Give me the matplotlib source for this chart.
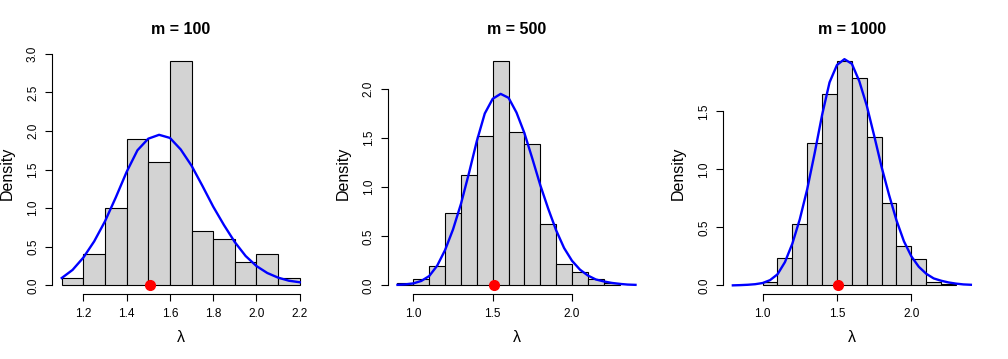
import numpy as np
import matplotlib.pyplot as plt

plt.rcParams['font.family'] = ['Liberation Sans', 'DejaVu Sans']

# sample sizes, one panel each
sizes = [100, 500, 1000]

# histogram bins (left edges, width 0.1) and densities
left_100 = [1.1, 1.2, 1.3, 1.4, 1.5, 1.6, 1.7, 1.8, 1.9, 2.0, 2.1]
dens_100 = [0.1, 0.4, 1.0, 1.9, 1.6, 2.9, 0.7, 0.6, 0.3, 0.4, 0.1]

left_500 = [0.9, 1.0, 1.1, 1.2, 1.3, 1.4, 1.5, 1.6, 1.7, 1.8, 1.9, 2.0, 2.1, 2.2]
dens_500 = [0.02, 0.06, 0.20, 0.74, 1.12, 1.52, 2.28, 1.56, 1.44, 0.62, 0.22, 0.14, 0.06, 0.02]

left_1000 = [1.0, 1.1, 1.2, 1.3, 1.4, 1.5, 1.6, 1.7, 1.8, 1.9, 2.0, 2.1, 2.2]
dens_1000 = [0.03, 0.24, 0.53, 1.23, 1.65, 1.93, 1.79, 1.28, 0.71, 0.34, 0.23, 0.03, 0.01]

# blue density curve (same in every panel)
curve_x = [0.80, 0.85, 0.90, 0.95, 1.00, 1.05, 1.10, 1.15, 1.20, 1.25, 1.30, 1.35,
           1.40, 1.45, 1.50, 1.55, 1.60, 1.65, 1.70, 1.75, 1.80, 1.85, 1.90, 1.95,
           2.00, 2.05, 2.10, 2.15, 2.20, 2.25, 2.30, 2.35, 2.40]
curve_y = [0.000, 0.002, 0.005, 0.010, 0.020, 0.045, 0.095, 0.20, 0.36, 0.57, 0.83, 1.14,
           1.47, 1.75, 1.90, 1.95, 1.91, 1.76, 1.55, 1.29, 1.02, 0.78, 0.56, 0.38,
           0.25, 0.16, 0.10, 0.06, 0.04, 0.025, 0.015, 0.008, 0.005]
curve_range = [(1.1, 2.2), (0.9, 2.4), (0.8, 2.4)]

# red point on the axis
lam_hat = [1.51, 1.51, 1.51]

yticks = [[0.0, 0.5, 1.0, 1.5, 2.0, 2.5, 3.0], [0.0, 0.5, 1.0, 1.5, 2.0], [0.0, 0.5, 1.0, 1.5]]
xticks = [[1.2, 1.4, 1.6, 1.8, 2.0, 2.2], [1.0, 1.5, 2.0], [1.0, 1.5, 2.0]]

lefts = [left_100, left_500, left_1000]
dens = [dens_100, dens_500, dens_1000]

fig = plt.figure(figsize=(10.08, 3.59), dpi=100)
ax_left = [0.0518, 0.3849, 0.7176]

cx = np.array(curve_x)
cy = np.array(curve_y)

for i in range(3):
    ax = fig.add_axes([ax_left[i], 0.1802, 0.255, 0.6735])
    ax.bar(lefts[i], dens[i], width=0.1, align='edge', color='#D3D3D3',
           edgecolor='black', linewidth=0.8)
    lo, hi = curve_range[i]
    sel = (cx >= lo - 1e-9) & (cx <= hi + 1e-9)
    ax.plot(cx[sel], cy[sel], color='blue', lw=1.7)
    ax.plot(lam_hat[i], 0, 'o', color='red', ms=7, clip_on=False, zorder=5)

    top = max(dens[i])
    ax.set_ylim(-0.04 * top, 1.04 * top)
    ax.set_xlim(lo - 0.04 * (hi - lo), hi + 0.04 * (hi - lo))

    for s in ['top', 'right']:
        ax.spines[s].set_visible(False)
    ax.spines['left'].set_bounds(yticks[i][0], yticks[i][-1])
    ax.spines['bottom'].set_bounds(xticks[i][0], xticks[i][-1])
    ax.spines['left'].set_linewidth(0.8)
    ax.spines['bottom'].set_linewidth(0.8)

    ax.set_yticks(yticks[i])
    ax.set_yticklabels(['%.1f' % v for v in yticks[i]])
    ax.set_xticks(xticks[i])
    ax.set_xticklabels(['%.1f' % v for v in xticks[i]])
    ax.tick_params(length=5, width=0.8, labelsize=8.5, pad=4.5)
    for lbl in ax.get_yticklabels():
        lbl.set_rotation(90)
        lbl.set_va('center')

    ax.set_title('m = %d' % sizes[i], fontweight='bold', fontsize=11.5, pad=13.5)
    ax.set_ylabel('Density', fontsize=11.5)
    ax.set_xlabel('λ', fontsize=11.5)
    ax.yaxis.set_label_coords(-0.145, 0.5)
    ax.xaxis.set_label_coords(0.5, -0.148)

fig.savefig('out.png', dpi=100)
